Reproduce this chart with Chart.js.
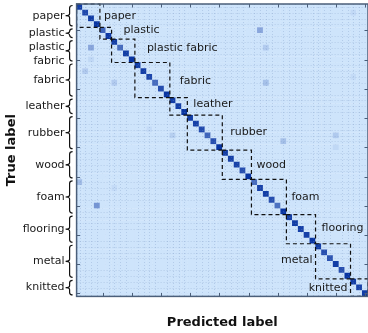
<!DOCTYPE html>
<html>
<head>
<meta charset="utf-8">
<script src="https://cdn.jsdelivr.net/npm/chart.js@4.4.1/dist/chart.umd.min.js"></script>
<style>
  html, body { margin: 0; padding: 0; background: #fff; }
  #wrap { width: 368px; height: 333px; }
</style>
</head>
<body>
<div id="wrap"><canvas id="cm"></canvas></div>
<script>
// material groups on both axes, in order, and how many sub-classes each holds
const groupNames = ['paper', 'plastic', 'plastic fabric', 'fabric', 'leather', 'rubber', 'wood', 'foam', 'flooring', 'metal', 'knitted'];
const groupSizes = [4, 2, 4, 6, 3, 6, 5, 6, 5, 6, 3];

// correct rate for every sub-class (diagonal)
const diagValues = [
  0.95, 0.88, 0.95, 1.0,
  0.72, 0.97,
  0.95, 0.68, 0.95, 1.0,
  0.95, 0.95, 0.9, 0.68, 0.85, 1.0,
  0.95, 0.95, 1.0,
  0.95, 0.93, 0.88, 0.72, 0.85, 1.0,
  0.95, 0.93, 0.93, 0.85, 1.0,
  0.68, 0.92, 0.95, 0.85, 0.65, 1.0,
  0.93, 0.95, 0.93, 0.93, 1.0,
  0.95, 0.85, 0.82, 0.95, 0.85, 1.0,
  0.95, 0.92, 0.95
];

// visible confusions off the diagonal: [true row, predicted column, rate]
const offDiag = [
  [1, 47, 0.06], [4, 31, 0.35], [7, 2, 0.35], [7, 32, 0.14], [9, 2, 0.07],
  [11, 1, 0.14], [12, 47, 0.05], [13, 6, 0.14], [13, 32, 0.2], [21, 12, 0.05],
  [22, 16, 0.12], [22, 44, 0.15], [23, 35, 0.2], [24, 44, 0.07], [30, 0, 0.22],
  [31, 6, 0.05], [34, 3, 0.45]
];

// major tick / grid positions
const majorTicks = [4, 9, 14, 19, 24, 29, 34, 39, 44, 49];

// where each group name sits next to its dashed box: [dx, dy, side]
const labelPlace = [
  [4, 0, 'r'], [12, -3, 'r'], [12, -3, 'r'], [10, 1, 'r'], [6, -2, 'r'], [8, -1, 'r'],
  [5, 0, 'r'], [5, 0, 'r'], [6, -1, 'r'], [3, -1, 'l'], [3, 1, 'l']
];

const n = diagValues.length;
const groupStart = [];
groupSizes.reduce((s, k) => { groupStart.push(s); return s + k; }, 0);

// build the full matrix
const matrix = [];
for (let r = 0; r < n; r++) {
  for (let c = 0; c < n; c++) {
    matrix.push({ x: c, y: r, v: r === c ? diagValues[r] : 0 });
  }
}
offDiag.forEach(([r, c, v]) => { matrix[r * n + c].v = v; });

const lo = [206, 228, 251];
const hi = [8, 52, 162];
function colour(v) {
  const c = lo.map((l, i) => Math.round(l + (hi[i] - l) * v));
  return `rgb(${c[0]},${c[1]},${c[2]})`;
}

function cellSize(chart) {
  const s = chart.scales.x;
  return Math.abs(s.getPixelForValue(1) - s.getPixelForValue(0));
}

const font = '"DejaVu Sans", Verdana, sans-serif';

const matrixDecor = {
  id: 'matrixDecor',
  afterDraw(chart) {
    const { ctx, chartArea: a, scales: { x, y } } = chart;
    ctx.save();

    // minor dotted grid at every sub-class
    ctx.strokeStyle = 'rgba(110,140,185,0.28)';
    ctx.lineWidth = 1;
    ctx.setLineDash([1, 2]);
    for (let i = 0; i < n; i++) {
      if (majorTicks.includes(i)) continue;
      const px = Math.round(x.getPixelForValue(i)) + 0.5;
      const py = Math.round(y.getPixelForValue(i)) + 0.5;
      ctx.beginPath(); ctx.moveTo(px, a.top); ctx.lineTo(px, a.bottom); ctx.stroke();
      ctx.beginPath(); ctx.moveTo(a.left, py); ctx.lineTo(a.right, py); ctx.stroke();
    }

    // dashed group boxes + names
    ctx.strokeStyle = '#111';
    ctx.lineWidth = 1.2;
    ctx.setLineDash([4, 3]);
    ctx.font = '11px ' + font;
    ctx.fillStyle = '#1a1a1a';
    ctx.textBaseline = 'middle';
    groupNames.forEach((name, g) => {
      const s = groupStart[g], k = groupSizes[g];
      const x0 = x.getPixelForValue(s - 0.5), x1 = x.getPixelForValue(s + k - 0.5);
      const y0 = y.getPixelForValue(s - 0.5), y1 = y.getPixelForValue(s + k - 0.5);
      ctx.strokeRect(x0, y0, x1 - x0, y1 - y0);
      const [dx, dy, side] = labelPlace[g];
      const cy = (y0 + y1) / 2 + dy;
      if (side === 'r') {
        ctx.textAlign = 'left';
        ctx.fillText(name, x1 + dx, cy);
      } else {
        ctx.textAlign = 'right';
        ctx.fillText(name, x0 - dx, cy);
      }
    });
    ctx.setLineDash([]);

    // frame and inward ticks
    ctx.strokeStyle = '#4b5f7a';
    ctx.lineWidth = 1.5;
    ctx.strokeRect(a.left, a.top, a.right - a.left, a.bottom - a.top);
    ctx.lineWidth = 1;
    majorTicks.forEach(t => {
      const px = Math.round(x.getPixelForValue(t)) + 0.5;
      const py = Math.round(y.getPixelForValue(t)) + 0.5;
      ctx.beginPath();
      ctx.moveTo(px, a.bottom); ctx.lineTo(px, a.bottom - 3.5);
      ctx.moveTo(px, a.top); ctx.lineTo(px, a.top + 3.5);
      ctx.moveTo(a.left, py); ctx.lineTo(a.left + 3.5, py);
      ctx.moveTo(a.right, py); ctx.lineTo(a.right - 3.5, py);
      ctx.stroke();
    });

    // braces and group names on the y side
    ctx.strokeStyle = '#111';
    ctx.lineWidth = 1.2;
    ctx.textAlign = 'right';
    const bx = a.left - 7;
    groupNames.forEach((name, g) => {
      const s = groupStart[g], k = groupSizes[g];
      const t = y.getPixelForValue(s - 0.5) + 1.5;
      const b = y.getPixelForValue(s + k - 0.5) - 1.5;
      const m = (t + b) / 2;
      ctx.beginPath();
      ctx.moveTo(bx + 3, t);
      ctx.quadraticCurveTo(bx, t, bx, t + 2.5);
      ctx.lineTo(bx, m - 2);
      ctx.quadraticCurveTo(bx, m, bx - 4, m);
      ctx.quadraticCurveTo(bx, m, bx, m + 2);
      ctx.lineTo(bx, b - 2.5);
      ctx.quadraticCurveTo(bx, b, bx + 3, b);
      ctx.stroke();
      const lines = name.split(' ');
      if (lines.length === 1) {
        ctx.fillText(name, bx - 5, m);
      } else {
        ctx.fillText(lines[0], bx - 5, m - 4);
        ctx.fillText(lines[1], bx - 5, m + 10);
      }
    });

    ctx.restore();
  }
};

new Chart(document.getElementById('cm'), {
  type: 'scatter',
  data: {
    datasets: [{
      data: matrix,
      pointStyle: 'rect',
      borderWidth: 0,
      backgroundColor: c => colour(c.raw.v),
      pointRadius: c => (cellSize(c.chart) + 0.4) / Math.SQRT2,
      pointHoverRadius: c => (cellSize(c.chart) + 0.4) / Math.SQRT2
    }]
  },
  options: {
    responsive: true,
    maintainAspectRatio: false,
    animation: false,
    events: [],
    layout: { padding: { left: 0, top: 4, right: 0, bottom: 0 } },
    plugins: {
      legend: { display: false },
      tooltip: { enabled: false }
    },
    scales: {
      x: {
        type: 'linear',
        min: -0.5,
        max: n - 0.5,
        z: 1,
        afterBuildTicks: s => { s.ticks = majorTicks.map(v => ({ value: v })); },
        ticks: { display: false },
        grid: { color: 'rgba(100,125,160,0.5)', lineWidth: 1, drawTicks: false },
        border: { display: false },
        title: {
          display: true,
          text: 'Predicted label',
          font: { family: font, size: 13, weight: 'bold' },
          color: '#111',
          padding: { top: 18, bottom: 3 }
        }
      },
      y: {
        type: 'linear',
        reverse: true,
        min: -0.5,
        max: n - 0.5,
        z: 1,
        afterBuildTicks: s => { s.ticks = majorTicks.map(v => ({ value: v })); },
        ticks: { display: false },
        grid: { color: 'rgba(100,125,160,0.5)', lineWidth: 1, drawTicks: false },
        border: { display: false },
        title: {
          display: true,
          text: 'True label',
          font: { family: font, size: 13, weight: 'bold' },
          color: '#111',
          padding: { top: 4, bottom: 57 }
        }
      }
    }
  },
  plugins: [matrixDecor]
});
</script>
</body>
</html>
